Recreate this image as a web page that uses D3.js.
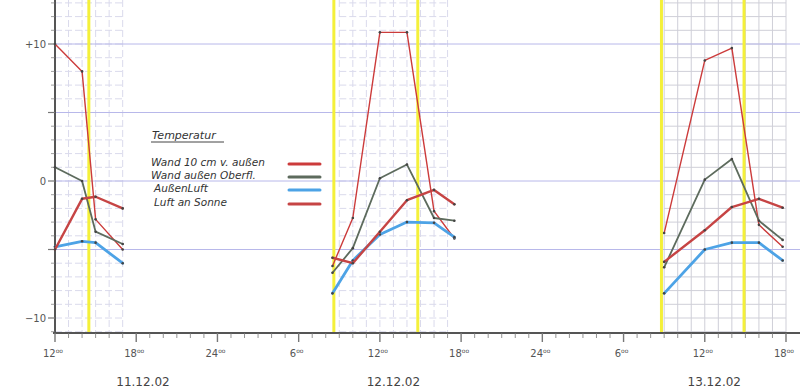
<!DOCTYPE html>
<html><head><meta charset="utf-8">
<script src="https://cdn.jsdelivr.net/npm/d3@7"></script>
<style>body{margin:0;background:#fff}svg{display:block}</style>
</head><body>
<svg id="c" width="800" height="392"></svg>
<script>
// hours since 11.12.02 00:00
const measureHours = [12, 14, 15, 17, 32.5, 34, 36, 38, 40, 41.5, 57, 60, 62, 64, 65.75];
const wand10      = [10, 8, -2.8, -5, -6.2, -2.7, 10.85, 10.85, -2.2, -4.2, -3.8, 8.8, 9.7, -3.2, -4.8];
const wandOberfl  = [1, 0, -3.7, -4.6, -6.7, -4.9, 0.2, 1.2, -2.7, -2.9, -6.3, 0.1, 1.6, -2.9, -4.3];
const aussenluft  = [-4.8, -4.4, -4.5, -6.0, -8.2, -5.8, -3.9, -3.0, -3.05, -4.1, -8.2, -5.0, -4.5, -4.5, -5.8];
const luftSonne   = [-5, -1.3, -1.15, -2.0, -5.6, -6.0, -3.7, -1.4, -0.65, -1.7, -5.9, -3.6, -1.9, -1.3, -1.95];
const sunLines    = [14.5, 32.6, 38.8, 56.8, 62.9];
const gridSpans   = [[12, 17], [33, 41], [57, 66]];
const tickHours   = [12, 18, 24, 30, 36, 42, 48, 54, 60, 66];
const tickLabels  = ["12", "18", "24", "6", "12", "18", "24", "6", "12", "18"];
const dayLabels   = ["11.12.02", "12.12.02", "13.12.02"];
const dayLabelHours = [18.5, 37.0, 60.7];
const yTicks      = [10, 0, -10];
const yTickLabels = ["+10", "0", "\u221210"];
const seriesNames = ["Wand 10 cm v. außen", "Wand außen Oberfl.", "AußenLuft", "Luft an Sonne"];

const svg = d3.select("#c");
const x = d3.scaleLinear().domain([12, 66]).range([55, 786]);
const y = d3.scaleLinear().domain([-10, 10]).range([318, 44]);
const yTop = 0, yBot = 333;

const series = [
  {name: seriesNames[0], vals: wand10, color: "#cc3b3b", w: 1.4},
  {name: seriesNames[1], vals: wandOberfl, color: "#5d6b5d", w: 1.8},
  {name: seriesNames[2], vals: aussenluft, color: "#4da3e6", w: 2.8},
  {name: seriesNames[3], vals: luftSonne, color: "#c64444", w: 2.4}
];

// fine grid
const g = svg.append("g");
gridSpans.forEach(([a, b], k) => {
  const col = k === 2 ? "#cfcfd8" : "#dadaec";
  const dash = k === 2 ? null : "7,3";
  d3.range(a, b + 1).forEach(h => {
    g.append("line").attr("x1", x(h)).attr("x2", x(h)).attr("y1", yTop).attr("y2", yBot)
      .attr("stroke", col).attr("stroke-width", 1).attr("stroke-dasharray", dash);
  });
  d3.range(-11, 14).forEach(v => {
    g.append("line").attr("x1", x(a)).attr("x2", Math.min(x(b), 800)).attr("y1", y(v)).attr("y2", y(v))
      .attr("stroke", col).attr("stroke-width", 1).attr("stroke-dasharray", dash);
  });
});
// 5-degree lines
[10, 5, 0, -5].forEach(v => {
  g.append("line").attr("x1", 55).attr("x2", 800).attr("y1", y(v)).attr("y2", y(v))
    .attr("stroke", "#b8b8ea").attr("stroke-width", 1);
});

// sun lines
sunLines.forEach(h => {
  svg.append("line").attr("x1", x(h)).attr("x2", x(h)).attr("y1", yTop).attr("y2", yBot)
    .attr("stroke", "#f4f03a").attr("stroke-width", 3);
});

// axes
svg.append("line").attr("x1", 55).attr("x2", 55).attr("y1", 0).attr("y2", yBot)
  .attr("stroke", "#555").attr("stroke-width", 2);
svg.append("line").attr("x1", 53).attr("x2", 800).attr("y1", yBot).attr("y2", yBot)
  .attr("stroke", "#555").attr("stroke-width", 2);
d3.range(12, 67).forEach(h => {
  const major = (h % 6 === 0);
  svg.append("line").attr("x1", x(h)).attr("x2", x(h)).attr("y1", yBot).attr("y2", yBot + (major ? 9 : 5))
    .attr("stroke", "#777").attr("stroke-width", major ? 1.4 : 0.8);
});
d3.range(-11, 14).forEach(v => {
  const major = (v % 5 === 0);
  svg.append("line").attr("x1", 55).attr("x2", major ? 48 : 51).attr("y1", y(v)).attr("y2", y(v))
    .attr("stroke", "#777").attr("stroke-width", major ? 1.2 : 0.7);
});

const font = "'DejaVu Sans', sans-serif";
tickHours.forEach((h, i) => {
  const t = svg.append("text").attr("x", x(h) - 2).attr("y", 357).attr("text-anchor", "middle")
    .attr("font-family", font).attr("font-size", 10).attr("fill", "#555");
  t.append("tspan").text(tickLabels[i]);
  t.append("tspan").attr("font-size", 6).attr("dy", -4).text("oo");
});
dayLabels.forEach((d, i) => {
  svg.append("text").attr("x", x(dayLabelHours[i])).attr("y", 386).attr("text-anchor", "middle")
    .attr("font-family", font).attr("font-size", 12).attr("fill", "#444").text(d);
});
yTicks.forEach((v, i) => {
  svg.append("text").attr("x", 46).attr("y", y(v) + 4).attr("text-anchor", "end")
    .attr("font-family", font).attr("font-size", 10).attr("fill", "#555").text(yTickLabels[i]);
});

// series lines, broken per day
const pts = measureHours.map((h, i) => i);
const segs = [];
let cur = [];
pts.forEach(i => {
  if (cur.length && measureHours[i] - measureHours[cur[cur.length - 1]] > 6) { segs.push(cur); cur = []; }
  cur.push(i);
});
segs.push(cur);
const line = d3.line().x(d => d[0]).y(d => d[1]);
series.forEach(s => {
  segs.forEach(seg => {
    svg.append("path").attr("d", line(seg.map(i => [x(measureHours[i]), y(s.vals[i])])))
      .attr("fill", "none").attr("stroke", s.color).attr("stroke-width", s.w)
      .attr("stroke-linejoin", "round").attr("stroke-linecap", "round");
    seg.forEach(i => {
      svg.append("circle").attr("cx", x(measureHours[i])).attr("cy", y(s.vals[i])).attr("r", 1.3)
        .attr("fill", "#444");
    });
  });
});

// legend
const lg = svg.append("g").attr("font-family", font).attr("fill", "#333");
lg.append("text").attr("x", 152).attr("y", 139).attr("font-size", 11).attr("font-style", "italic").text("Temperatur");
lg.append("line").attr("x1", 151).attr("x2", 224).attr("y1", 142).attr("y2", 142).attr("stroke", "#444").attr("stroke-width", 1);
const rowY = [166, 179, 192, 206];
series.forEach((s, i) => {
  lg.append("text").attr("x", i >= 2 ? 154 : 151).attr("y", rowY[i]).attr("font-size", 10.5).attr("font-style", "italic").text(s.name);
  lg.append("line").attr("x1", 289).attr("x2", 320).attr("y1", rowY[i] - 2).attr("y2", rowY[i] - 2)
    .attr("stroke", s.color).attr("stroke-width", 3).attr("stroke-linecap", "round");
});
</script>
</body></html>
